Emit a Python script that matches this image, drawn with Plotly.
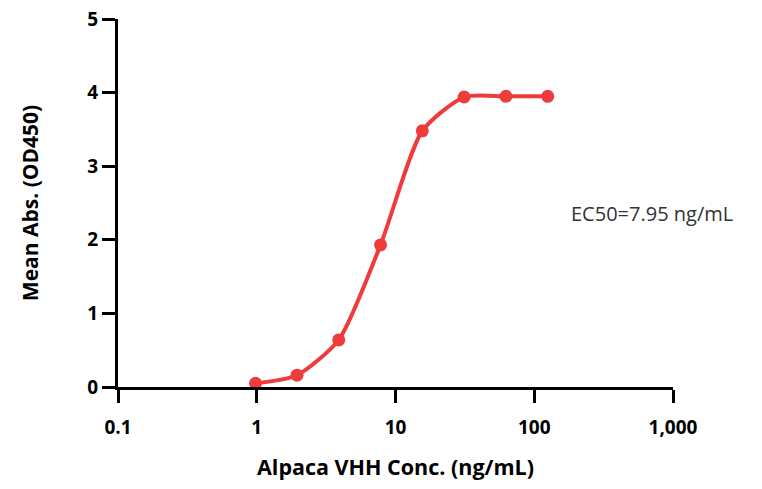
import plotly.graph_objects as go

conc = [0.98, 1.95, 3.9, 7.8, 15.6, 31.25, 62.5, 125]
od450 = [0.05, 0.16, 0.64, 1.93, 3.48, 3.94, 3.95, 3.95]
x_tickvals = [0.1, 1, 10, 100, 1000]
x_ticktext = ["0.1", "1", "10", "100", "1,000"]
y_tickvals = [0, 1, 2, 3, 4, 5]
ec50_label = "EC50=7.95 ng/mL"

red = "#EF3B3B"
fig = go.Figure()
fig.add_trace(go.Scatter(
    x=conc, y=od450, mode="lines+markers",
    line=dict(color=red, width=4, shape="spline", smoothing=0.65),
    marker=dict(color=red, size=13),
    showlegend=False, cliponaxis=False, hoverinfo="skip",
))

fig.update_layout(
    width=762, height=489,
    margin=dict(l=118, r=89, t=19, b=102),
    plot_bgcolor="white", paper_bgcolor="white",
    font=dict(family="Open Sans", color="black"),
    xaxis=dict(
        type="log", range=[-1, 3], tickvals=x_tickvals, ticktext=x_ticktext,
        showgrid=False, zeroline=False, showline=True, linecolor="black", linewidth=3,
        ticks="outside", ticklen=13, tickwidth=3, tickcolor="black",
        ticklabelstandoff=8, ticklabeloverflow="allow", automargin="bottom",
        tickfont=dict(size=19, family="Open Sans", weight="bold"),
        title=dict(text="Alpaca VHH Conc. (ng/mL)", font=dict(size=21.5, weight="bold"), standoff=22),
    ),
    yaxis=dict(
        range=[0, 5], tickvals=y_tickvals,
        showgrid=False, zeroline=False, showline=True, linecolor="black", linewidth=3,
        ticks="outside", ticklen=13, tickwidth=3, tickcolor="black",
        ticklabeloverflow="allow", automargin="left",
        tickfont=dict(size=19, family="Open Sans", weight="bold"),
        title=dict(text="Mean Abs. (OD450)", font=dict(size=21, weight="bold"), standoff=43),
    ),
    annotations=[dict(
        text=ec50_label, x=1.0, xref="paper", y=2.36, yref="y",
        xanchor="left", yanchor="middle", showarrow=False, xshift=-104,
        font=dict(size=20, family="Open Sans", color="#333333"),
    )],
)

fig.write_html("out.html", config={"displayModeBar": False},
               post_script="document.body.style.margin='0';")
